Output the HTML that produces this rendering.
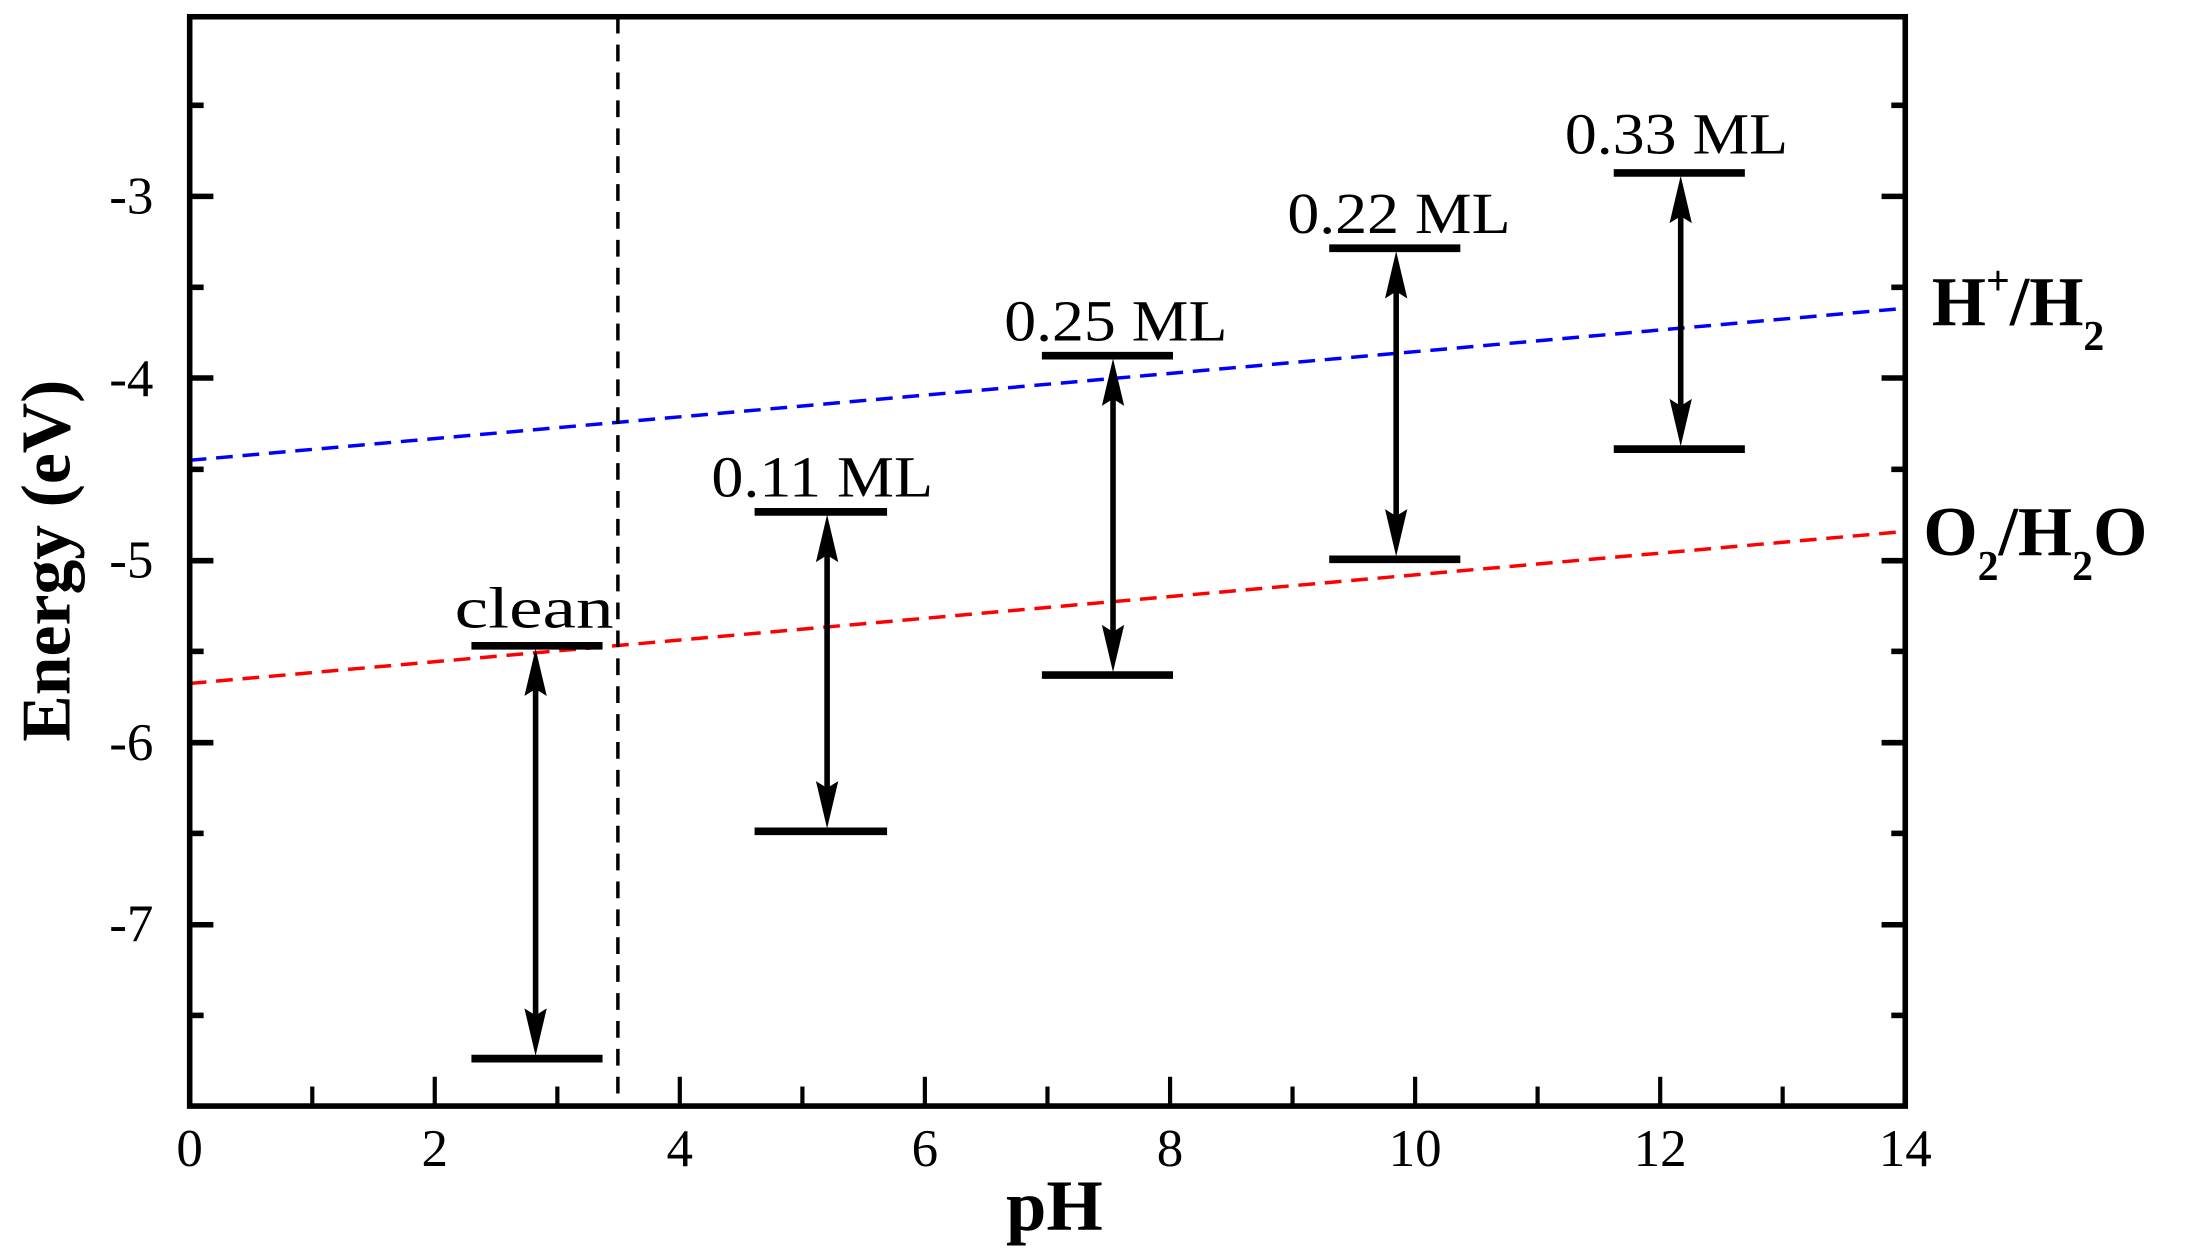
<!DOCTYPE html>
<html><head><meta charset="utf-8"><style>
html,body{margin:0;padding:0;background:#fff;}
svg{display:block;}
svg text{font-family:"Liberation Serif","Times New Roman",Times,serif;}
</style></head><body>
<svg width="2187" height="1256" viewBox="0 0 1568 900.5" preserveAspectRatio="none" xmlns="http://www.w3.org/2000/svg">
<line x1="136" y1="330" x2="1366" y2="221" stroke="#0000ff" stroke-width="2.5" stroke-dasharray="12,7"/>
<line x1="136" y1="490" x2="1366" y2="381" stroke="#ff0000" stroke-width="2.5" stroke-dasharray="12,7"/>
<line x1="443" y1="12" x2="443" y2="793" stroke="#000" stroke-width="2.5" stroke-dasharray="12,8"/>
<rect x="136" y="12" width="1230" height="781" fill="none" stroke="#000" stroke-width="4"/>
<g stroke="#000" stroke-width="4">
<line x1="136" y1="140.8" x2="153" y2="140.8"/><line x1="1366" y1="140.8" x2="1349" y2="140.8"/>
<line x1="136" y1="271" x2="153" y2="271"/><line x1="1366" y1="271" x2="1349" y2="271"/>
<line x1="136" y1="402" x2="153" y2="402"/><line x1="1366" y1="402" x2="1349" y2="402"/>
<line x1="136" y1="532.5" x2="153" y2="532.5"/><line x1="1366" y1="532.5" x2="1349" y2="532.5"/>
<line x1="136" y1="663" x2="153" y2="663"/><line x1="1366" y1="663" x2="1349" y2="663"/>
<line x1="136" y1="75.5" x2="146" y2="75.5"/><line x1="1366" y1="75.5" x2="1356" y2="75.5"/>
<line x1="136" y1="206" x2="146" y2="206"/><line x1="1366" y1="206" x2="1356" y2="206"/>
<line x1="136" y1="336.5" x2="146" y2="336.5"/><line x1="1366" y1="336.5" x2="1356" y2="336.5"/>
<line x1="136" y1="467" x2="146" y2="467"/><line x1="1366" y1="467" x2="1356" y2="467"/>
<line x1="136" y1="597.5" x2="146" y2="597.5"/><line x1="1366" y1="597.5" x2="1356" y2="597.5"/>
<line x1="136" y1="728" x2="146" y2="728"/><line x1="1366" y1="728" x2="1356" y2="728"/>
</g>
<g stroke="#000" stroke-width="3">
<line x1="311.7" y1="793" x2="311.7" y2="772"/><line x1="487.4" y1="793" x2="487.4" y2="772"/>
<line x1="663.1" y1="793" x2="663.1" y2="772"/><line x1="838.9" y1="793" x2="838.9" y2="772"/>
<line x1="1014.6" y1="793" x2="1014.6" y2="772"/><line x1="1190.3" y1="793" x2="1190.3" y2="772"/>
<line x1="223.9" y1="793" x2="223.9" y2="779"/><line x1="399.6" y1="793" x2="399.6" y2="779"/>
<line x1="575.3" y1="793" x2="575.3" y2="779"/><line x1="751" y1="793" x2="751" y2="779"/>
<line x1="926.7" y1="793" x2="926.7" y2="779"/><line x1="1102.4" y1="793" x2="1102.4" y2="779"/>
<line x1="1278.1" y1="793" x2="1278.1" y2="779"/>
</g>
<g font-size="38" text-anchor="end">
<text x="110" y="153">-3</text><text x="110" y="284">-4</text><text x="110" y="414">-5</text>
<text x="110" y="545">-6</text><text x="110" y="675">-7</text>
</g>
<g font-size="38" text-anchor="middle">
<text x="136" y="836">0</text><text x="311.7" y="836">2</text><text x="487.4" y="836">4</text>
<text x="663.1" y="836">6</text><text x="838.9" y="836">8</text><text x="1014.6" y="836">10</text>
<text x="1190.3" y="836">12</text><text x="1366" y="836">14</text>
</g>
<text x="756" y="882" font-size="52" font-weight="bold" text-anchor="middle">pH</text>
<text transform="translate(50,402) rotate(-90)" font-size="50" font-weight="bold" text-anchor="middle">Energy (eV)</text>
<g stroke="#000" stroke-width="5.5">
<line x1="338" y1="463" x2="432" y2="463"/><line x1="338" y1="759" x2="432" y2="759"/>
<line x1="541" y1="367" x2="636" y2="367"/><line x1="541" y1="596" x2="636" y2="596"/>
<line x1="747" y1="255" x2="841" y2="255"/><line x1="747" y1="484" x2="841" y2="484"/>
<line x1="953" y1="178" x2="1047" y2="178"/><line x1="953" y1="401" x2="1047" y2="401"/>
<line x1="1157" y1="124" x2="1251" y2="124"/><line x1="1157" y1="322" x2="1251" y2="322"/>
</g>
<g stroke="#000" stroke-width="4">
<line x1="384" y1="475" x2="384" y2="747"/>
<line x1="593" y1="379" x2="593" y2="584"/>
<line x1="798" y1="267" x2="798" y2="472"/>
<line x1="1001" y1="190" x2="1001" y2="389"/>
<line x1="1205" y1="136" x2="1205" y2="310"/>
</g>
<g fill="#000">
<path d="M384,465 l8,34 l-8,-5 l-8,5z"/><path d="M384,757 l8,-34 l-8,5 l-8,-5z"/>
<path d="M593,369 l8,34 l-8,-5 l-8,5z"/><path d="M593,594 l8,-34 l-8,5 l-8,-5z"/>
<path d="M798,257 l8,34 l-8,-5 l-8,5z"/><path d="M798,482 l8,-34 l-8,5 l-8,-5z"/>
<path d="M1001,180 l8,34 l-8,-5 l-8,5z"/><path d="M1001,399 l8,-34 l-8,5 l-8,-5z"/>
<path d="M1205,126 l8,34 l-8,-5 l-8,5z"/><path d="M1205,320 l8,-34 l-8,5 l-8,-5z"/>
</g>
<g font-size="42">
<text x="326" y="450" textLength="114" lengthAdjust="spacingAndGlyphs">clean</text>
<text x="510" y="356" textLength="159" lengthAdjust="spacingAndGlyphs">0.11 ML</text>
<text x="720" y="244" textLength="160" lengthAdjust="spacingAndGlyphs">0.25 ML</text>
<text x="923" y="167" textLength="160" lengthAdjust="spacingAndGlyphs">0.22 ML</text>
<text x="1122" y="110" textLength="160" lengthAdjust="spacingAndGlyphs">0.33 ML</text>
</g>
<text x="1385" y="233" font-size="50" font-weight="bold">H<tspan font-size="30" dy="-22">+</tspan><tspan dy="22">/H</tspan><tspan font-size="30" dy="18">2</tspan></text>
<text x="1379" y="398" font-size="50" font-weight="bold">O<tspan font-size="30" dy="18">2</tspan><tspan dy="-18">/H</tspan><tspan font-size="30" dy="18">2</tspan><tspan dy="-18">O</tspan></text>
</svg>
</body></html>
